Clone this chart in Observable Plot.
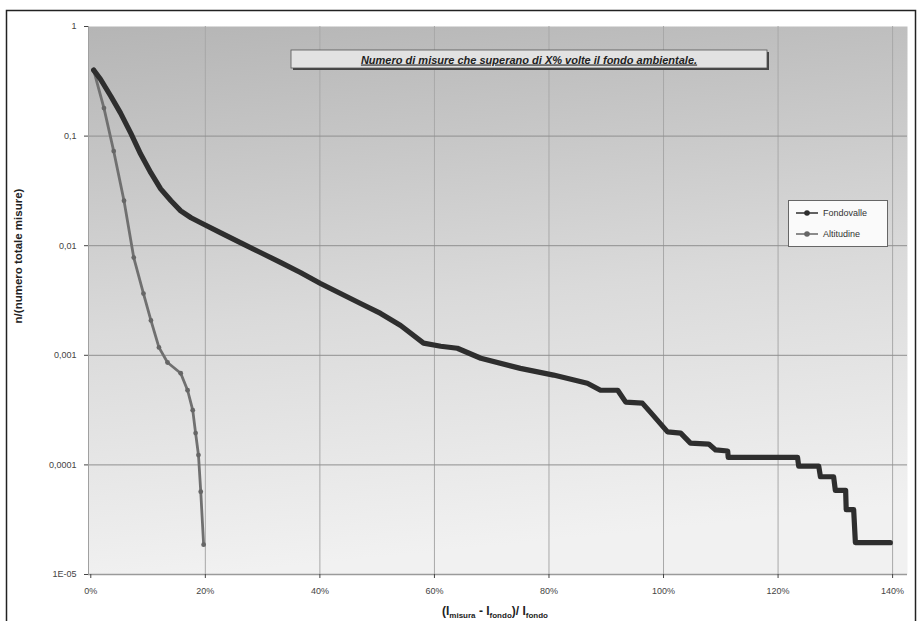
<!DOCTYPE html>
<html>
<head>
<meta charset="utf-8">
<script src="https://cdn.jsdelivr.net/npm/d3@7"></script>
<script src="https://cdn.jsdelivr.net/npm/@observablehq/plot@0.6"></script>
<style>
  body { margin: 0; background: #fff; font-family: "Liberation Sans", Arial, sans-serif; }
  #chart { position: relative; width: 918px; height: 621px; }
</style>
</head>
<body>
<div id="chart"></div>
<script>
// ---- data ----
const seriesNames = ["Fondovalle", "Altitudine"];

// dark series: x (fraction), y (n / total)
const darkX = [0.005, 0.017, 0.035, 0.052, 0.070, 0.087, 0.105, 0.122, 0.140, 0.157, 0.175, 0.192,
  0.227, 0.262, 0.297, 0.332, 0.366, 0.401, 0.436, 0.471, 0.506, 0.541, 0.581, 0.611, 0.640, 0.681,
  0.750, 0.808, 0.867, 0.890, 0.920, 0.934, 0.963, 0.977, 1.007, 1.030, 1.047, 1.079, 1.091, 1.112,
  1.113, 1.234, 1.236, 1.271, 1.274, 1.297, 1.300, 1.318, 1.319, 1.332, 1.335, 1.396];
const darkY = [0.40, 0.33, 0.231, 0.162, 0.106, 0.0686, 0.0461, 0.033, 0.0257, 0.0208, 0.018, 0.0162,
  0.0131, 0.0106, 0.00863, 0.0070, 0.00569, 0.00452, 0.00366, 0.00297, 0.00241, 0.00187, 0.00129, 0.00121, 0.00116, 0.00094,
  0.00076, 0.00066, 0.000556, 0.00048, 0.00048, 0.000374, 0.000366, 0.000303, 0.000200, 0.000195, 0.000158, 0.000155, 0.000137, 0.000134,
  0.000117, 0.000117, 0.0000975, 0.0000975, 0.000078, 0.000078, 0.0000585, 0.0000585, 0.000039, 0.000039, 0.0000195, 0.0000195];

// gray series
const grayX = [0.005, 0.023, 0.040, 0.058, 0.075, 0.092, 0.105, 0.119, 0.134, 0.157, 0.169, 0.178, 0.183, 0.188, 0.192, 0.197];
const grayY = [0.40, 0.18, 0.073, 0.0257, 0.0078, 0.00366, 0.00208, 0.00118, 0.00086, 0.000686, 0.00048, 0.000316, 0.000195, 0.000123, 0.000057, 0.0000187];

const xTicks = [0, 0.2, 0.4, 0.6, 0.8, 1.0, 1.2, 1.4];
const xTickLabels = ["0%", "20%", "40%", "60%", "80%", "100%", "120%", "140%"];
const yTicks = [1, 0.1, 0.01, 0.001, 0.0001, 0.00001];
const yTickLabels = ["1", "0,1", "0,01", "0,001", "0,0001", "1E-05"];

const titleText = "Numero di misure che superano di X% volte il fondo ambientale.";
const yLabel = "n/(numero totale misure)";

// ---- build tables ----
const dark = darkX.map((x, i) => ({x, y: darkY[i]}));
const gray = grayX.map((x, i) => ({x, y: grayY[i]}));

const W = 918, H = 621;
const svg = Plot.plot({
  width: W, height: H,
  marginLeft: 88, marginRight: 11, marginTop: 26, marginBottom: 47,
  style: {fontFamily: "'Liberation Sans', Arial, sans-serif", background: "transparent"},
  x: {domain: [-0.004, 1.426]},
  y: {type: "log", domain: [0.00001, 1]},
  marks: [
    Plot.frame({fill: "url(#plotbg)", stroke: "none"}),
    Plot.ruleX(xTicks.slice(1), {stroke: "#a8a8a8", strokeWidth: 1}),
    Plot.ruleY(yTicks.slice(1, -1), {stroke: "#8f8f8f", strokeWidth: 1}),
    Plot.ruleY([0.00001], {stroke: "#9a9a9a", strokeWidth: 1.5}),
    Plot.ruleX([-0.004], {stroke: "#a0a0a0", strokeWidth: 1}),
    Plot.axisX({ticks: xTicks, tickFormat: d => xTickLabels[xTicks.indexOf(d)], tickSize: 4,
      tickPadding: 9, fontSize: 9, color: "#444", label: null}),
    Plot.axisY({ticks: yTicks, tickFormat: d => yTickLabels[yTicks.indexOf(d)], tickSize: 4,
      tickPadding: 8, fontSize: 9, color: "#444", label: null}),
    Plot.line(gray, {x: "x", y: "y", stroke: "#707070", strokeWidth: 2.8}),
    Plot.dot(gray, {x: "x", y: "y", r: 2.4, fill: "#666"}),
    Plot.line(dark, {x: "x", y: "y", stroke: "#2e2e2e", strokeWidth: 5.2, curve: "linear"})
  ]
});

const s = d3.select(svg);
const defs = s.insert("defs", ":first-child");
const g = defs.append("linearGradient").attr("id", "plotbg").attr("x1", 0).attr("y1", 0).attr("x2", 0.15).attr("y2", 1);
g.append("stop").attr("offset", "0%").attr("stop-color", "#b5b5b5");
g.append("stop").attr("offset", "55%").attr("stop-color", "#dadada");
g.append("stop").attr("offset", "100%").attr("stop-color", "#f1f1f1");

// outer frame
s.append("rect").attr("x", 6.5).attr("y", 10.5).attr("width", 909).attr("height", 640)
  .attr("fill", "none").attr("stroke", "#222").attr("stroke-width", 1.5);

// title box
const tb = s.append("g");
tb.append("rect").attr("x", 293).attr("y", 52).attr("width", 476).attr("height", 18)
  .attr("fill", "#444");
tb.append("rect").attr("x", 291).attr("y", 50).attr("width", 476).attr("height", 18)
  .attr("fill", "#e2e2e2").attr("stroke", "#555").attr("stroke-width", 0.8);
tb.append("text").attr("x", 529).attr("y", 63.5).attr("text-anchor", "middle")
  .attr("font-size", 11).attr("font-weight", "bold").attr("font-style", "italic")
  .attr("text-decoration", "underline").attr("fill", "#222").text(titleText);

// legend
const lg = s.append("g");
lg.append("rect").attr("x", 788.5).attr("y", 200.5).attr("width", 99).attr("height", 46)
  .attr("fill", "#fafafa").attr("stroke", "#666").attr("stroke-width", 1);
const legendColors = ["#2e2e2e", "#666"];
seriesNames.forEach((name, i) => {
  const yy = 213 + i * 21;
  lg.append("line").attr("x1", 796).attr("x2", 818).attr("y1", yy).attr("y2", yy)
    .attr("stroke", legendColors[i]).attr("stroke-width", 1.5);
  lg.append("circle").attr("cx", 807).attr("cy", yy).attr("r", 2.8).attr("fill", legendColors[i]);
  lg.append("text").attr("x", 823).attr("y", yy + 3).attr("text-anchor", "start")
    .attr("font-size", 9).attr("fill", "#333").text(name);
});

// y axis label
s.append("text").attr("transform", "translate(22,256) rotate(-90)").attr("text-anchor", "middle")
  .attr("font-size", 11.5).attr("font-weight", "bold").attr("fill", "#222").text(yLabel);

// x axis label with subscripts
const xl = s.append("text").attr("x", 495).attr("y", 615).attr("text-anchor", "middle")
  .attr("font-size", 12).attr("font-weight", "bold").attr("fill", "#222");
xl.append("tspan").text("(I");
xl.append("tspan").attr("font-size", 8).attr("dy", 3).text("misura");
xl.append("tspan").attr("dy", -3).text(" - I");
xl.append("tspan").attr("font-size", 8).attr("dy", 3).text("fondo");
xl.append("tspan").attr("dy", -3).text(")/ I");
xl.append("tspan").attr("font-size", 8).attr("dy", 3).text("fondo");

document.getElementById("chart").appendChild(svg);
</script>
</body>
</html>
